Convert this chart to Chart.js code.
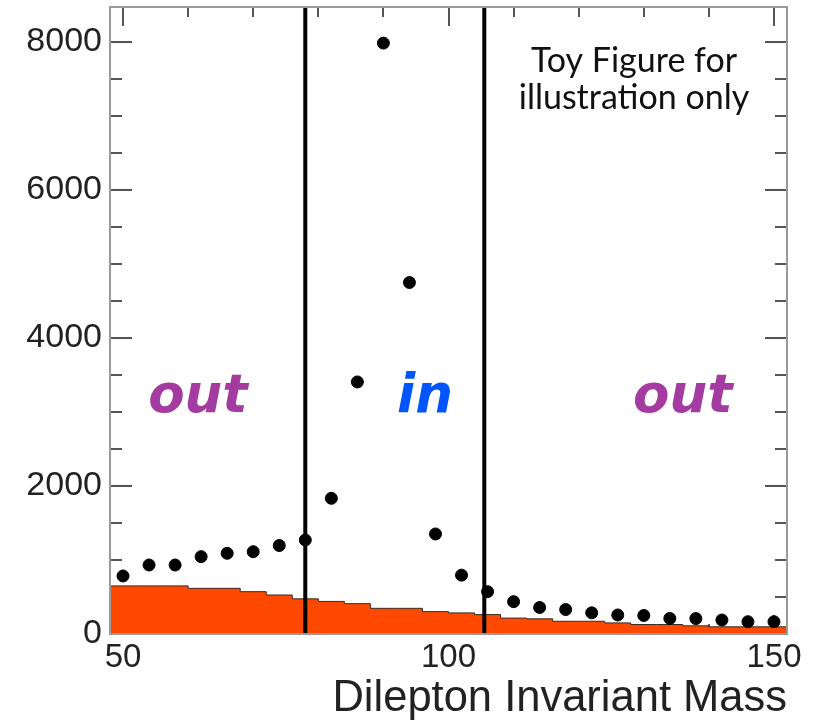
<!DOCTYPE html>
<html>
<head>
<meta charset="utf-8">
<script src="https://cdn.jsdelivr.net/npm/chart.js@4.4.1/dist/chart.umd.min.js"></script>
<style>
  html, body { margin: 0; padding: 0; background: #fff; }
  #wrap { width: 817px; height: 720px; position: relative; }
</style>
</head>
<body>
<div id="wrap"><canvas id="myChart"></canvas></div>
<script>
// bin centres (4 GeV bins) and counts
const massBins = [50, 54, 58, 62, 66, 70, 74, 78, 82, 86, 90, 94, 98, 102, 106, 110, 114, 118, 122, 126, 130, 134, 138, 142, 146, 150];
const dataCounts = [784, 932, 932, 1045, 1090, 1112, 1195, 1270, 1833, 3405, 7982, 4748, 1351, 795, 572, 437, 358, 330, 286, 257, 250, 210, 208, 189, 166, 166];
const bkgCounts = [590, 650, 650, 650, 617, 617, 572, 527, 475, 440, 410, 347, 347, 302, 285, 262, 215, 205, 172, 172, 150, 128, 128, 110, 97, 97];
const binWidth = 4;
const windowEdges = [78, 105.5];
const xTickLabels = [50, 100, 150];
const yTickLabels = [0, 2000, 4000, 6000, 8000];
const regionLabels = ['out', 'in', 'out'];
const regionCenters = [61.5, 96.4, 136];
const regionColors = ['#A33BA1', '#0055FF', '#A33BA1'];
const noteLines = ['Toy Figure for', 'illustration only'];

const xMin = 48, xMax = 152, yMax = 8470;

let chartInstance = null;

const frameAndTicks = {
    id: 'frameAndTicks',
    beforeDatasetsDraw(chart) {
        const { ctx, chartArea: a, scales: { x, y } } = chart;
        ctx.save();
        ctx.strokeStyle = '#555';
        ctx.lineWidth = 2;
        ctx.beginPath();
        for (let v = 0; v <= yMax; v += 500) {
            const py = Math.round(y.getPixelForValue(v));
            const len = v % 2000 === 0 ? 22 : 12;
            ctx.moveTo(a.left, py); ctx.lineTo(a.left + len, py);
            ctx.moveTo(a.right, py); ctx.lineTo(a.right - len, py);
        }
        for (let v = 50; v <= 150; v += 10) {
            const px = Math.round(x.getPixelForValue(v));
            const len = v % 50 === 0 ? 19 : 10;
            ctx.moveTo(px, a.top); ctx.lineTo(px, a.top + len);
            ctx.moveTo(px, a.bottom); ctx.lineTo(px, a.bottom - len);
        }
        ctx.stroke();
        ctx.restore();
    },
    afterDatasetsDraw(chart) {
        const { ctx, chartArea: a, scales: { x, y } } = chart;
        ctx.save();
        ctx.strokeStyle = '#9a9a9a';
        ctx.lineWidth = 2;
        ctx.strokeRect(a.left, a.top, a.right - a.left, a.bottom - a.top);

        ctx.font = 'italic bold 53px "DejaVu Sans"';
        ctx.textAlign = 'center';
        ctx.textBaseline = 'alphabetic';
        regionLabels.forEach((t, i) => {
            ctx.fillStyle = regionColors[i];
            ctx.fillText(t, x.getPixelForValue(regionCenters[i]), y.getPixelForValue(3000));
        });

        ctx.font = '34px Lato';
        ctx.fillStyle = '#111';
        ctx.fillText(noteLines[0], a.right - 153, a.top + 65);
        ctx.fillText(noteLines[1], a.right - 153, a.top + 102);
        ctx.restore();
    }
};

function RenderChart() {
    const ctx = document.getElementById('myChart');
    if (chartInstance != null) {
        chartInstance.destroy();
    }

    const pointData = massBins.map((m, i) => ({ x: m, y: dataCounts[i] }));
    const bkgData = massBins.map((m, i) => ({ x: m - binWidth / 2, y: bkgCounts[i] }));
    bkgData.push({ x: massBins[massBins.length - 1] + binWidth / 2, y: bkgCounts[bkgCounts.length - 1] });

    const windowSets = windowEdges.map(w => ({
        type: 'line',
        data: [{ x: w, y: 0 }, { x: w, y: yMax }],
        borderColor: '#000',
        borderWidth: 4,
        pointRadius: 0,
        fill: false
    }));

    Chart.defaults.font.family = '"Liberation Sans", Arial, sans-serif';

    chartInstance = new Chart(ctx, {
        type: 'scatter',
        data: {
            datasets: [
                {
                    label: 'Data',
                    data: pointData,
                    backgroundColor: '#000',
                    borderColor: '#000',
                    pointRadius: 6,
                    pointHoverRadius: 6
                },
                ...windowSets,
                {
                    type: 'line',
                    label: 'Background',
                    data: bkgData,
                    stepped: 'after',
                    fill: 'origin',
                    backgroundColor: '#FF4800',
                    borderColor: '#3a2a20',
                    borderWidth: 1,
                    pointRadius: 0
                }
            ]
        },
        options: {
            responsive: true,
            maintainAspectRatio: false,
            animation: false,
            layout: { padding: { top: 7, right: 30, left: 0, bottom: 0 } },
            plugins: {
                legend: { display: false },
                tooltip: { enabled: false }
            },
            scales: {
                x: {
                    type: 'linear',
                    position: 'bottom',
                    min: xMin,
                    max: xMax,
                    afterFit: s => { s.height = 86; s.paddingLeft = 0; s.paddingRight = 0; },
                    afterBuildTicks: s => { s.ticks = xTickLabels.map(v => ({ value: v })); },
                    grid: { display: false, drawTicks: false },
                    border: { display: false },
                    ticks: {
                        font: { size: 33 }, color: '#222', padding: 4, maxRotation: 0, autoSkip: false,
                        callback: v => String(v)
                    },
                    title: {
                        display: true,
                        text: 'Dilepton Invariant Mass',
                        align: 'end',
                        color: '#222',
                        font: { size: 43.5, lineHeight: 0.95 },
                        padding: 0
                    }
                },
                y: {
                    type: 'linear',
                    min: 0,
                    max: yMax,
                    afterFit: s => { s.width = 110; s.paddingTop = 0; s.paddingBottom = 0; },
                    afterBuildTicks: s => { s.ticks = yTickLabels.map(v => ({ value: v })); },
                    grid: { display: false, drawTicks: false },
                    border: { display: false },
                    ticks: {
                        font: { size: 34 }, color: '#222', padding: 8,
                        callback: v => String(v)
                    }
                }
            }
        },
        plugins: [frameAndTicks]
    });
}

RenderChart();
</script>
</body>
</html>
